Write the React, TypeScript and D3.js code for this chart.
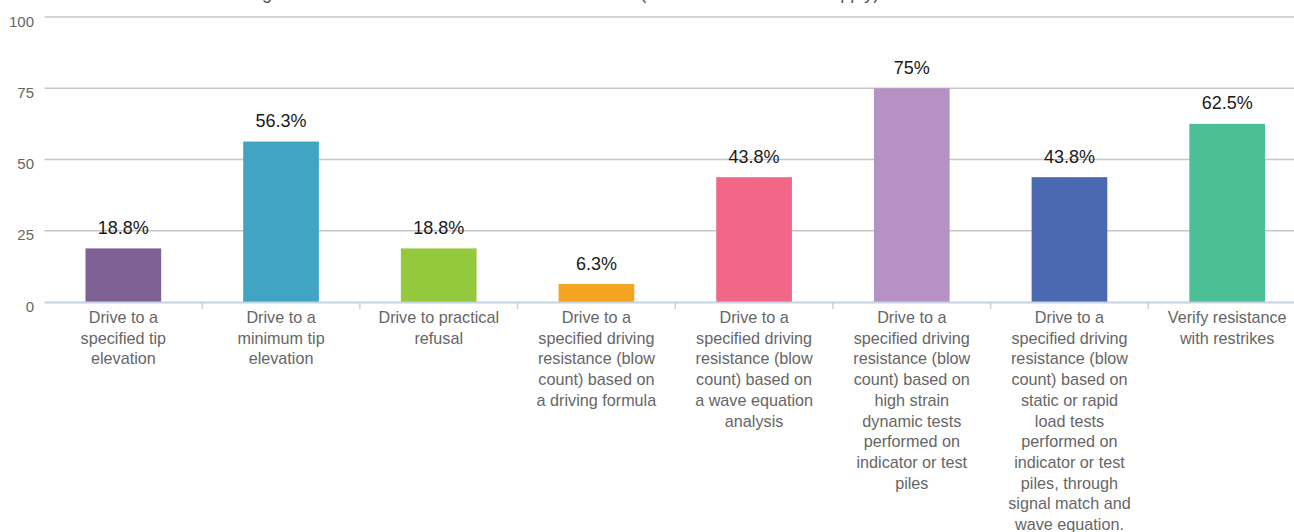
import React from "react";
import * as d3 from "d3";

const WIDTH = 1294;
const HEIGHT = 532;

const titleText =
  "Driving criteria used to determine nominal resistance (select all methods that apply)";

const categoryLines: string[][] = [
  ["Drive to a", "specified tip", "elevation"],
  ["Drive to a", "minimum tip", "elevation"],
  ["Drive to practical", "refusal"],
  ["Drive to a", "specified driving", "resistance (blow", "count) based on", "a driving formula"],
  ["Drive to a", "specified driving", "resistance (blow", "count) based on", "a wave equation", "analysis"],
  [
    "Drive to a",
    "specified driving",
    "resistance (blow",
    "count) based on",
    "high strain",
    "dynamic tests",
    "performed on",
    "indicator or test",
    "piles",
  ],
  [
    "Drive to a",
    "specified driving",
    "resistance (blow",
    "count) based on",
    "static or rapid",
    "load tests",
    "performed on",
    "indicator or test",
    "piles, through",
    "signal match and",
    "wave equation.",
  ],
  ["Verify resistance", "with restrikes"],
];

const values: number[] = [18.8, 56.3, 18.8, 6.3, 43.8, 75, 43.8, 62.5];

const colors: string[] = [
  "#7e6095",
  "#40a4c2",
  "#95c93d",
  "#f5a422",
  "#f26688",
  "#b692c4",
  "#4b69b1",
  "#4dbf97",
];

const yTicks: number[] = [0, 25, 50, 75, 100];

export default function App() {
  const ids = values.map((_, i) => String(i));
  const x = d3
    .scaleBand<string>()
    .domain(ids)
    .range([44.5, 1306])
    .paddingInner(0.52)
    .paddingOuter(0.26);
  const step = x.step();
  const x0 = 44.5;
  const y = d3.scaleLinear().domain([0, 100]).range([302, 17]);
  const font = "'Liberation Sans', Arial, sans-serif";

  return (
    <svg
      width={WIDTH}
      height={HEIGHT}
      style={{ position: "absolute", left: 0, top: 0, background: "#fff" }}
      fontFamily={font}
    >
      <text x={216} y={-1.5} fontSize={18} fill="#555">
        {titleText}
      </text>

      {yTicks
        .filter((t) => t > 0)
        .map((t) => (
          <line
            key={"g" + t}
            x1={x0}
            x2={1306}
            y1={y(t)}
            y2={y(t)}
            stroke="#c6c6c6"
            strokeWidth={1.5}
          />
        ))}
      {yTicks.map((t) => (
        <text
          key={"yl" + t}
          x={34}
          y={y(t) + 9.5}
          textAnchor="end"
          fontSize={15}
          fill="#666"
        >
          {t}
        </text>
      ))}

      {values.map((v, i) => (
        <rect
          key={"b" + i}
          x={x(ids[i])}
          y={y(v)}
          width={x.bandwidth()}
          height={y(0) - y(v)}
          fill={colors[i]}
        />
      ))}

      <line x1={x0} x2={1306} y1={y(0) + 0.5} y2={y(0) + 0.5} stroke="#c5d2e2" strokeWidth={2} />
      {ids.map((_, i) =>
        i === 0 ? null : (
          <line
            key={"t" + i}
            x1={x0 + i * step}
            x2={x0 + i * step}
            y1={y(0)}
            y2={y(0) + 7}
            stroke="#c5d2e2"
            strokeWidth={1.5}
          />
        )
      )}

      {values.map((v, i) => (
        <text
          key={"v" + i}
          x={(x(ids[i]) as number) + x.bandwidth() / 2}
          y={y(v) - 14.5}
          textAnchor="middle"
          fontSize={18}
          fill="#1a1a1a"
        >
          {`${v}%`}
        </text>
      ))}

      {categoryLines.map((lines, i) => (
        <text
          key={"c" + i}
          x={(x(ids[i]) as number) + x.bandwidth() / 2}
          textAnchor="middle"
          fontSize={16.2}
          fill="#666"
        >
          {lines.map((ln, j) => (
            <tspan key={j} x={(x(ids[i]) as number) + x.bandwidth() / 2} y={323 + j * 20.7}>
              {ln}
            </tspan>
          ))}
        </text>
      ))}
    </svg>
  );
}
